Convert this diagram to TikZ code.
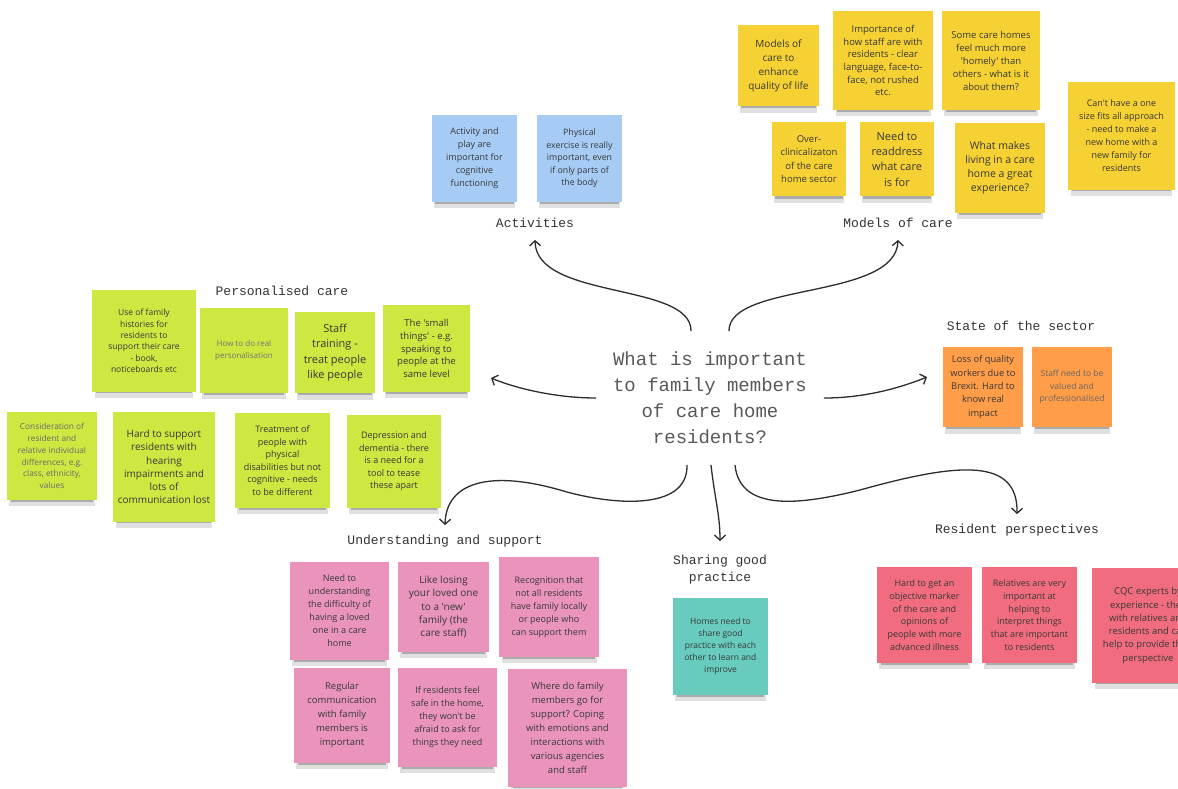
\documentclass[tikz,border=0pt]{standalone}
\usepackage{fontspec}
\usetikzlibrary{arrows.meta}
\usetikzlibrary{shadows}
\newfontfamily\notefont{Open Sans}
\newfontfamily\labelfont{Liberation Mono}
\definecolor{yellowN}{HTML}{F5D133}
\definecolor{blueN}{HTML}{A6CCF5}
\definecolor{limeN}{HTML}{CEE741}
\definecolor{orangeN}{HTML}{FF9D48}
\definecolor{pinkN}{HTML}{EA94BB}
\definecolor{tealN}{HTML}{67CBBE}
\definecolor{redN}{HTML}{F16C7F}
\definecolor{ink}{HTML}{2D2D2D}

\tikzset{
  note/.style={align=center, inner sep=0pt, text=black!78,
    drop shadow={shadow xshift=0pt, shadow yshift=-9pt, shadow scale=0.95, opacity=0.12, fill=black},
    drop shadow={shadow xshift=0pt, shadow yshift=-6pt, shadow scale=0.92, opacity=0.3, fill=black!80}},
  box/.style 2 args={minimum width=#1pt, minimum height=#2pt},
  fs/.style 2 args={font=\notefont\fontsize{#1}{#2}\selectfont},
  lbl/.style={font=\labelfont\fontsize{13}{17}\selectfont, text=black!80,
    inner xsep=3pt, inner ysep=10pt, text height=9pt, text depth=2.5pt},
  link/.style={draw=ink, line width=1.3pt, line cap=round,
    -{Straight Barb[length=5pt, width=11pt, line width=1.3pt]}}
}

\begin{document}
\begin{tikzpicture}[x=1pt, y=-1pt]
\useasboundingbox (0,0) rectangle (1178,788);
\clip (0,0) rectangle (1178,788);
\fill[white] (0,0) rectangle (1178,788);

\node[font=\labelfont\fontsize{19}{26}\selectfont, text=black!65, align=center,
  inner sep=0pt, minimum width=228pt, minimum height=134pt] (q) at (710,398)
  {What is important\\to family members\\of care home\\residents?};

\node[lbl] (act) at (535,224) {Activities};
\node[lbl] (moc) at (898,224) {Models of care};
\node[lbl] (pc) at (282,292) {Personalised care};
\node[lbl] (sos) at (1021,327) {State of the sector};
\node[lbl] (uas) at (445,541) {Understanding and support};
\node[font=\labelfont\fontsize{13}{17}\selectfont, text=black!80, align=center,
  inner xsep=3pt, inner ysep=14pt, anchor=north] (sgp) at (720,541) {Sharing good\\practice};
\node[lbl] (rp) at (1017,530) {Resident perspectives};
\coordinate (pcTip) at (491,378);
\coordinate (sosTip) at (927,377);

\node[note, fill=blueN, box={85}{87}, fs={9}{13}] (b1) at (474.5,158.5)
  {Activity and\\play are\\important for\\cognitive\\functioning};
\node[note, fill=blueN, box={85}{87}, fs={8.8}{12.5}] (b2) at (579.5,158.5)
  {Physical\\exercise is really\\important, even\\if only parts of\\the body};

\node[note, fill=yellowN, box={81}{81}, fs={10}{14}] (y1) at (778.5,65.5)
  {Models of\\care to\\enhance\\quality of life};
\node[note, fill=yellowN, box={100}{99}, fs={9.5}{12.7}] (y2) at (883,60.5)
  {Importance of\\how staff are with\\residents - clear\\language, face-to-\\face, not rushed\\etc.};
\node[note, fill=yellowN, box={98}{99}, fs={9.5}{13}] (y3) at (991,60.5)
  {Some care homes\\feel much more\\'homely' than\\others - what is it\\about them?};
\node[note, fill=yellowN, box={74}{74}, fs={9.5}{13.3}] (y4) at (809,159)
  {Over-\\clinicalizaton\\of the care\\home sector};
\node[note, fill=yellowN, box={74}{74}, fs={11}{15.3}] (y5) at (897,159)
  {Need to\\readdress\\what care\\is for};
\node[note, fill=yellowN, box={90}{90}, fs={10.5}{14}] (y6) at (1000,168)
  {What makes\\living in a care\\home a great\\experience?};
\node[note, fill=yellowN, box={107}{108}, fs={9}{13}] (y7) at (1121.5,136)
  {Can't have a one\\size fits all approach\\- need to make a\\new home with a\\new family for\\residents};

\node[note, fill=limeN, box={104}{102}, fs={8.5}{11.3}] (g1) at (144,341)
  {Use of family\\histories for\\residents to\\support their care\\- book,\\noticeboards etc};
\node[note, fill=limeN, box={88}{85}, fs={8}{11.3}, text=black!55] (g2) at (244,350.5)
  {How to do real\\personalisation};
\node[note, fill=limeN, box={80}{81}, fs={11}{15.5}] (g3) at (335,352.5)
  {Staff\\training -\\treat people\\like people};
\node[note, fill=limeN, box={87}{87}, fs={9.5}{12.7}] (g4) at (426.5,348.5)
  {The 'small\\things' - e.g.\\speaking to\\people at the\\same level};
\node[note, fill=limeN, box={90}{88}, fs={8.3}{11.8}, text=black!58] (g5) at (52,456)
  {Consideration of\\resident and\\relative individual\\differences, e.g.\\class, ethnicity,\\values};
\node[note, fill=limeN, box={102}{110}, fs={10}{13.2}] (g6) at (164,467)
  {Hard to support\\residents with\\hearing\\impairments and\\lots of\\communication lost};
\node[note, fill=limeN, box={95}{95}, fs={9}{12.5}] (g7) at (282.5,460.5)
  {Treatment of\\people with\\physical\\disabilities but not\\cognitive - needs\\to be different};
\node[note, fill=limeN, box={94}{93}, fs={9}{12.5}] (g8) at (394,461.5)
  {Depression and\\dementia - there\\is a need for a\\tool to tease\\these apart};

\node[note, fill=orangeN, box={80}{80}, fs={9.3}{13.3}] (o1) at (983,387)
  {Loss of quality\\workers due to\\Brexit. Hard to\\know real\\impact};
\node[note, fill=orangeN, box={80}{80}, fs={8.5}{12.5}, text=black!60] (o2) at (1072,387)
  {Staff need to be\\valued and\\professionalised};

\node[note, fill=pinkN, box={99}{98}, fs={9}{13}] (p1) at (339.5,611)
  {Need to\\understanding\\the difficulty of\\having a loved\\one in a care\\home};
\node[note, fill=pinkN, box={91}{90}, fs={10}{13.3}] (p2) at (443.5,607)
  {Like losing\\your loved one\\to a 'new'\\family (the\\care staff)};
\node[note, fill=pinkN, box={100}{100}, fs={9}{13}] (p3) at (549,607)
  {Recognition that\\not all residents\\have family locally\\or people who\\can support them};
\node[note, fill=pinkN, box={96}{95}, fs={9.5}{14}] (p4) at (342,715.5)
  {Regular\\communication\\with family\\members is\\important};
\node[note, fill=pinkN, box={99}{99}, fs={9}{13}] (p5) at (447.5,717.5)
  {If residents feel\\safe in the home,\\they won't be\\afraid to ask for\\things they need};
\node[note, fill=pinkN, box={119}{118}, fs={9.5}{14}] (p6) at (567.5,728)
  {Where do family\\members go for\\support? Coping\\with emotions and\\interactions with\\various agencies\\and staff};

\node[note, fill=tealN, box={95}{97}, fs={8.5}{12}] (t1) at (720.5,646.5)
  {Homes need to\\share good\\practice with each\\other to learn and\\improve};

\node[note, fill=redN, box={95}{96}, fs={9}{12.7}] (r1) at (924.5,615)
  {Hard to get an\\objective marker\\of the care and\\opinions of\\people with more\\advanced illness};
\node[note, fill=redN, box={95}{96}, fs={9}{12.7}] (r2) at (1029.5,615)
  {Relatives are very\\important at\\helping to\\interpret things\\that are important\\to residents};
\node[note, fill=redN, box={112}{115}, fs={9.5}{13.3}] (r3) at (1148,625.5)
  {CQC experts by\\experience - they\\with relatives and\\residents and can\\help to provide their\\perspective};

\draw[link] ([xshift=-19pt]q.north) .. controls (691,282) and (536,300) .. (act.south);
\draw[link] ([xshift=19pt]q.north) .. controls (729,282) and (896,300) .. (moc.south);
\draw[link] (q.west) .. controls (560,398) and (520,390) .. (pcTip);
\draw[link] (q.east) .. controls (860,398) and (895,390) .. (sosTip);
\draw[link] ([xshift=-23pt]q.south) .. controls (688,512) and (610,505) .. (560,490)
  .. controls (490,470) and (446,482) .. (uas.north);
\draw[link] ([xshift=1pt]q.south) .. controls (715,500) and (720,515) .. (sgp.north);
\draw[link] ([xshift=25pt]q.south) .. controls (740,512) and (800,505) .. (860,490)
  .. controls (960,462) and (1018,458) .. (rp.north);
\end{tikzpicture}
\end{document}
